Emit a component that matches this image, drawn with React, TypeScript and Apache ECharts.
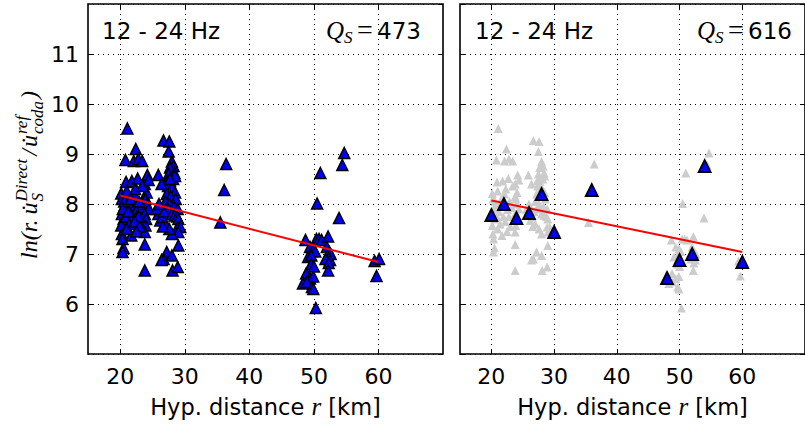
import React, { useEffect, useRef } from "react";
import * as echarts from "echarts";

// All individual measurements (distance km, ln amplitude ratio)
const clusterNear: [number, number][] = [
  [21.1, 9.51], [22.4, 9.1], [20.8, 8.88], [22.1, 8.86], [22.8, 8.9], [23.4, 8.86],
  [20.9, 8.44], [21.8, 8.46], [22.7, 8.51], [23.8, 8.4], [24.2, 8.58], [24.4, 8.48],
  [20.15, 8.21], [21.0, 8.26], [22.1, 8.2], [23.8, 8.15], [24.1, 8.23], [22.3, 8.3], [23.4, 8.36],
  [20.25, 8.1], [20.7, 7.98], [21.3, 8.0], [22.3, 7.95], [22.6, 7.89], [23.3, 7.93],
  [23.9, 8.1], [24.1, 8.0], [24.4, 7.9], [23.8, 7.8], [24.0, 7.7], [23.9, 7.57], [23.8, 7.44],
  [20.25, 7.8], [20.5, 7.7], [20.15, 7.57], [20.25, 7.4], [20.35, 7.3], [20.5, 7.12], [20.35, 7.04],
  [21.7, 7.37], [23.8, 7.19], [23.8, 6.67],
  [20.9, 7.75], [21.9, 7.75], [22.8, 7.75], [21.4, 7.6], [22.2, 7.65], [23.0, 7.55], [21.0, 7.5], [22.5, 7.45],
  [20.6, 8.05], [21.6, 8.1], [22.9, 8.05], [20.4, 7.9], [21.2, 7.85],
];
const clusterMid: [number, number][] = [
  [25.9, 8.58], [26.7, 9.27], [27.6, 9.25], [27.5, 9.05], [28.0, 8.85], [28.25, 8.76], [27.7, 8.73],
  [27.5, 8.6], [27.7, 8.46], [27.3, 8.46], [27.4, 8.36], [28.0, 8.33], [28.5, 8.23], [28.2, 8.5], [28.4, 8.62],
  [27.2, 8.2], [27.8, 8.15], [28.6, 8.1], [27.0, 8.05], [27.6, 8.0], [28.3, 7.95], [27.4, 7.9], [28.9, 7.9],
  [25.9, 7.8], [26.2, 7.67], [27.0, 7.6], [26.5, 7.74], [25.6, 7.9], [26.8, 7.85], [26.0, 8.0], [26.4, 8.4],
  [28.0, 7.8], [28.4, 7.77], [28.8, 7.75], [29.0, 7.7], [28.9, 7.54], [29.3, 7.54], [29.0, 7.44], [28.0, 7.4],
  [29.0, 7.17], [27.2, 7.04], [26.7, 6.9], [28.0, 6.97], [26.4, 6.88], [28.1, 6.67], [28.9, 6.74], [27.6, 7.5], [26.6, 7.55],
  [28.5, 8.56], [27.7, 8.5],
];
const clusterAt36: [number, number][] = [[36.1, 8.28], [36.4, 8.8], [35.5, 7.63]];
const clusterFar: [number, number][] = [
  [54.7, 9.02], [54.4, 8.78], [51.0, 8.62], [50.5, 8.01], [53.9, 7.72], [48.7, 7.28], [50.4, 7.3],
  [50.8, 7.3], [51.2, 7.28], [52.2, 7.35], [49.4, 7.14], [49.9, 7.1], [50.2, 7.05], [52.0, 7.14],
  [52.4, 7.04], [52.6, 7.0], [49.1, 6.94], [49.6, 6.97], [51.8, 6.9], [52.5, 6.88], [52.3, 6.82],
  [49.6, 6.8], [50.0, 6.75], [52.2, 6.67], [48.8, 6.61], [49.4, 6.51], [49.9, 6.55], [48.3, 6.41],
  [48.9, 6.44], [49.7, 6.34], [49.9, 6.3], [50.3, 5.92], [59.4, 6.86], [60.1, 6.9], [59.7, 6.56],
];

// Binned averages (right panel)
const binDistance = [20, 22, 24, 26, 28, 30, 36, 48, 50, 52, 54, 60];
const binValue = [7.78, 8.0, 7.72, 7.82, 8.2, 7.44, 8.28, 6.52, 6.88, 7.0, 8.76, 6.84];

// Fitted lines
const fitLeft: [number, number][] = [[20, 8.17], [60, 6.84]];
const fitRight: [number, number][] = [[20, 8.07], [60, 7.04]];

const xTickValues = [20, 30, 40, 50, 60];
const bandLabel = "12 - 24 Hz";
const qLeft = "473";
const qRight = "616";

const allPoints = [...clusterNear, ...clusterMid, ...clusterAt36, ...clusterFar];
const binPoints = binDistance.map((d, i) => [d, binValue[i]]);

function measure(text: string, font: string): number {
  const ctx = document.createElement("canvas").getContext("2d")!;
  ctx.font = font;
  return ctx.measureText(text).width;
}

const SANS = "DejaVu Sans";
const SERIF = "Liberation Serif";

function xAxis(grid: number, main: boolean) {
  return {
    type: "value",
    gridIndex: grid,
    position: main ? "bottom" : "top",
    min: 15,
    max: 70,
    axisLine: { show: false },
    axisTick: { show: true, inside: true, length: 5, customValues: xTickValues, lineStyle: { color: "#000", width: 1 } },
    axisLabel: main
      ? { show: true, customValues: xTickValues, fontSize: 22, color: "#000", fontFamily: SANS, margin: 11 }
      : { show: false },
    splitLine: main ? { show: true, lineStyle: { color: "#000", width: 1, type: [1, 4] } } : { show: false },
    name: main ? "{a|Hyp. distance }{i|r}{a| [km]}" : "",
    nameLocation: "middle",
    nameGap: 40,
    nameTextStyle: {
      rich: {
        a: { fontSize: 22.5, fontFamily: SANS, color: "#000" },
        i: { fontSize: 25, fontFamily: SERIF, fontStyle: "italic", color: "#000" },
      },
    },
  };
}

function yAxis(grid: number, main: boolean, labels: boolean) {
  return {
    type: "value",
    gridIndex: grid,
    position: main ? "left" : "right",
    min: 5,
    max: 12,
    interval: 1,
    axisLine: { show: false },
    axisTick: { show: true, inside: true, length: 5, lineStyle: { color: "#000", width: 1 } },
    axisLabel: labels
      ? { show: true, showMinLabel: false, showMaxLabel: false, fontSize: 22, color: "#000", fontFamily: SANS, margin: 9 }
      : { show: false },
    splitLine: main ? { show: true, lineStyle: { color: "#000", width: 1, type: [1, 4] } } : { show: false },
  };
}

function panelTexts(left: number, qx: number, q: string) {
  const M = 23;
  const base = 39;
  const cy = base - 0.34 * M;
  return [
    { type: "text", x: left, y: cy, style: { text: bandLabel, fontSize: M, fontFamily: SANS, fill: "#000", verticalAlign: "middle" } },
    { type: "text", x: qx, y: base - 0.34 * 25, style: { text: "Q", fontSize: 25, fontFamily: SERIF, fontStyle: "italic", fill: "#000", verticalAlign: "middle" } },
    { type: "text", x: qx + 18, y: base + 4 - 0.34 * 17, style: { text: "S", fontSize: 17, fontFamily: SERIF, fontStyle: "italic", fill: "#000", verticalAlign: "middle" } },
    { type: "text", x: qx + 31, y: base - 0.34 * 28, style: { text: "=", fontSize: 28, fontFamily: SERIF, fill: "#000", verticalAlign: "middle" } },
    { type: "text", x: qx + 51, y: cy, style: { text: q, fontSize: M, fontFamily: SANS, fill: "#000", verticalAlign: "middle" } },
  ];
}

function yLabelGroup() {
  const M = 24;
  const S = 17;
  const fM = `italic ${M}px "${SERIF}"`;
  const fS = `italic ${S}px "${SERIF}"`;
  const children: any[] = [];
  let x = 0;
  const put = (text: string, size: number, base: number) => {
    children.push({
      type: "text",
      x,
      y: base - 0.34 * size,
      style: { text, fontSize: size, fontFamily: SERIF, fontStyle: "italic", fill: "#000", verticalAlign: "middle" },
    });
  };
  put("ln(r.", M, 0);
  x += measure("ln(r.", fM) + 5;
  put("u\u0307", M, 0);
  x += measure("u", fM) + 1;
  put("Direct", S, -0.42 * M);
  put("S", S, 0.28 * M);
  x += Math.max(measure("Direct", fS), measure("S", fS)) + 3;
  put("/", M, 0);
  x += measure("/", fM) + 2;
  put("u\u0307", M, 0);
  x += measure("u", fM) + 1;
  put("ref", S, -0.42 * M);
  put("coda", S, 0.28 * M);
  x += Math.max(measure("ref", fS), measure("coda", fS)) + 2;
  put(")", M, 0);
  x += measure(")", fM);
  const total = x;
  return {
    type: "group",
    x: 37,
    y: 175 + total / 2,
    rotation: Math.PI / 2,
    children,
  };
}

export default function App() {
  const ref = useRef<HTMLDivElement>(null);
  useEffect(() => {
    if (!ref.current) return;
    const chart = echarts.init(ref.current, undefined, { renderer: "svg" });
    const option: any = {
      animation: false,
      backgroundColor: "#fff",
      grid: [
        { left: 88, top: 4, width: 355, height: 350, show: true, borderColor: "#000", borderWidth: 1.6 },
        { left: 460, top: 4, width: 355, height: 350, show: true, borderColor: "#000", borderWidth: 1.6 },
      ],
      xAxis: [xAxis(0, true), xAxis(1, true), xAxis(0, false), xAxis(1, false)],
      yAxis: [yAxis(0, true, true), yAxis(1, true, false), yAxis(0, false, false), yAxis(1, false, false)],
      series: [
        {
          type: "scatter",
          xAxisIndex: 0,
          yAxisIndex: 0,
          data: allPoints,
          symbol: "triangle",
          symbolSize: 11,
          itemStyle: { color: "#0000ff", borderColor: "#000", borderWidth: 1.5, opacity: 1 },
          z: 3,
        },
        {
          type: "line",
          xAxisIndex: 0,
          yAxisIndex: 0,
          data: fitLeft,
          showSymbol: false,
          lineStyle: { color: "#ff0000", width: 2 },
          z: 4,
        },
        {
          type: "scatter",
          xAxisIndex: 1,
          yAxisIndex: 1,
          data: allPoints,
          symbol: "triangle",
          symbolSize: 9,
          itemStyle: { color: "#cccccc", opacity: 1 },
          z: 2,
        },
        {
          type: "line",
          xAxisIndex: 1,
          yAxisIndex: 1,
          data: fitRight,
          showSymbol: false,
          lineStyle: { color: "#ff0000", width: 2 },
          z: 3,
        },
        {
          type: "scatter",
          xAxisIndex: 1,
          yAxisIndex: 1,
          data: binPoints,
          symbol: "triangle",
          symbolSize: 12,
          itemStyle: { color: "#0000ff", borderColor: "#000", borderWidth: 1.8, opacity: 1 },
          z: 4,
        },
      ],
      graphic: [...panelTexts(102, 326, qLeft), ...panelTexts(475, 697, qRight), yLabelGroup()],
    };
    chart.setOption(option);
    return () => chart.dispose();
  }, []);
  return <div ref={ref} style={{ position: "absolute", left: 0, top: 0, width: 805, height: 425 }} />;
}
